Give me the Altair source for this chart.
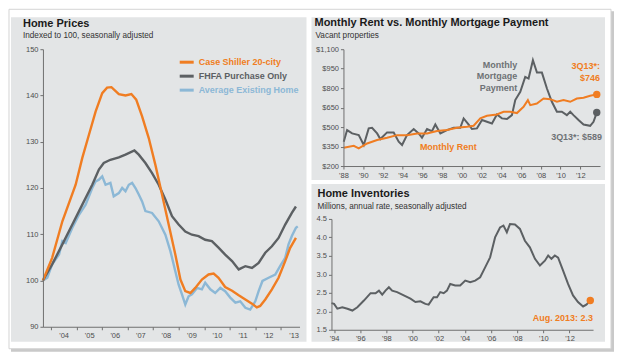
import altair as alt
import pandas as pd

FONT = "Liberation Sans"
ORANGE = "#f07d22"
DARK = "#5c6063"
BLUE = "#8cb8d6"
PANEL = "#e3e5e6"
AXIS = "#6f6f6f"
LABEL = "#4d4d4d"
ANNO_GRAY = "#6e7275"

# ---------------- Home prices (indexed to 100) ----------------
hp_names = ["Case Shiller 20-city", "FHFA Purchase Only", "Average Existing Home"]
cs_year = [2003.69, 2004.05, 2004.45, 2004.97, 2005.23, 2005.49, 2005.75, 2006.01, 2006.20, 2006.37,
           2006.66, 2006.92, 2007.15, 2007.34, 2007.57, 2007.83, 2008.09, 2008.35, 2008.61, 2008.87,
           2009.07, 2009.26, 2009.46, 2009.65, 2009.91, 2010.17, 2010.37, 2010.56, 2010.82, 2011.09,
           2011.35, 2011.61, 2011.87, 2012.06, 2012.19, 2012.39, 2012.65, 2012.91, 2013.17, 2013.36, 2013.59]
cs_val = [100.0, 104.9, 112.8, 120.7, 126.5, 131.5, 136.5, 140.5, 141.7, 141.8,
          140.3, 140.0, 140.3, 139.1, 135.5, 130.8, 125.0, 118.6, 112.1, 105.6,
          100.2, 97.7, 97.3, 98.4, 100.2, 101.3, 101.5, 100.6, 98.6, 97.8,
          96.8, 95.9, 95.0, 94.2, 94.5, 95.9, 98.1, 100.6, 104.2, 107.0, 109.2]
fhfa_year = [2003.69, 2004.05, 2004.45, 2004.84, 2005.23, 2005.62, 2005.88, 2006.07, 2006.33, 2006.66,
             2006.92, 2007.27, 2007.44, 2007.70, 2007.96, 2008.22, 2008.48, 2008.74, 2009.00, 2009.26,
             2009.52, 2009.78, 2010.04, 2010.30, 2010.56, 2010.82, 2011.09, 2011.35, 2011.61, 2011.87,
             2012.13, 2012.39, 2012.65, 2012.91, 2013.17, 2013.43, 2013.59]
fhfa_val = [100.0, 103.5, 107.8, 112.1, 116.4, 120.7, 124.0, 125.4, 126.1, 126.6,
            127.2, 128.1, 127.2, 125.4, 123.2, 120.7, 117.5, 113.9, 112.1, 110.6,
            109.9, 109.6, 108.8, 108.5, 107.1, 105.6, 104.2, 102.4, 103.1, 102.7,
            103.8, 106.0, 107.4, 109.2, 112.1, 114.6, 116.0]
aeh_year = [2003.69, 2003.86, 2004.05, 2004.32, 2004.45, 2004.58, 2004.84, 2005.10, 2005.36, 2005.62,
            2005.75, 2005.88, 2006.01, 2006.14, 2006.33, 2006.46, 2006.66, 2006.79, 2006.92, 2007.05,
            2007.18, 2007.31, 2007.44, 2007.57, 2007.70, 2007.96, 2008.22, 2008.48, 2008.68, 2008.87,
            2009.00, 2009.13, 2009.26, 2009.39, 2009.52, 2009.72, 2009.91, 2010.04, 2010.24, 2010.43,
            2010.63, 2010.82, 2011.02, 2011.22, 2011.41, 2011.61, 2011.80, 2012.00, 2012.13, 2012.28,
            2012.52, 2012.78, 2012.97, 2013.17, 2013.30, 2013.43, 2013.59, 2013.66]
aeh_val = [100.0, 100.6, 103.5, 105.6, 108.5, 108.1, 111.4, 114.2, 116.4, 120.0,
           121.4, 121.8, 122.5, 120.7, 121.1, 118.2, 118.9, 120.0, 119.3, 120.7,
           121.1, 120.0, 118.6, 117.1, 115.0, 114.6, 112.8, 109.9, 106.3, 102.0,
           99.1, 97.0, 94.8, 96.6, 97.0, 98.4, 98.1, 99.5, 98.1, 97.3,
           98.4, 97.7, 96.3, 95.2, 95.5, 94.1, 93.7, 95.5, 97.7, 99.9,
           100.6, 101.3, 103.1, 104.9, 107.8, 109.6, 111.4, 111.7]
hp_years = list(range(2004, 2014))
hp_ticks = [90, 100, 110, 120, 130, 140, 150]

# ---------------- Monthly rent vs mortgage payment ----------------
rent_year = [1988.03, 1989.05, 1989.55, 1990.40, 1991.41, 1992.42, 1993.43, 1994.44, 1995.46, 1996.47,
             1997.48, 1998.49, 1999.50, 2000.52, 2001.19, 2001.87, 2002.54, 2003.55, 2004.23, 2004.90,
             2005.58, 2006.25, 2006.69, 2006.93, 2007.60, 2008.28, 2008.95, 2009.63, 2010.30, 2010.98,
             2011.65, 2012.33, 2013.00, 2013.67]
rent_val = [341, 356, 336, 374, 400, 418, 438, 438, 451, 451,
            469, 477, 495, 503, 510, 567, 587, 597, 618, 618,
            608, 656, 708, 669, 682, 720, 715, 695, 708, 695,
            720, 726, 741, 752]
mort_year = [1988.03, 1988.37, 1988.88, 1989.55, 1990.06, 1990.56, 1990.90, 1991.41, 1991.74, 1992.42,
             1993.09, 1993.60, 1993.94, 1994.44, 1995.12, 1995.62, 1995.96, 1996.47, 1996.97, 1997.31,
             1997.82, 1998.49, 1999.17, 1999.84, 2000.18, 2000.69, 2001.02, 2001.53, 2002.04, 2002.54,
             2003.05, 2003.55, 2004.06, 2004.57, 2005.07, 2005.41, 2005.92, 2006.42, 2006.76, 2007.20,
             2007.61, 2008.11, 2008.62, 2009.12, 2009.63, 2010.13, 2010.64, 2010.98, 2011.31, 2011.82,
             2012.33, 2013.00, 2013.34, 2013.67]
mort_val = [387, 477, 451, 438, 362, 490, 495, 451, 408, 459,
            459, 387, 362, 438, 485, 451, 418, 485, 469, 520,
            451, 477, 495, 495, 567, 520, 485, 490, 554, 541,
            528, 597, 567, 562, 592, 708, 772, 887, 874, 1015,
            920, 920, 797, 695, 618, 618, 592, 618, 592, 554,
            520, 510, 541, 612]
pay_ticks = [200, 350, 500, 650, 800, 950, 1100]
pay_years = list(range(1988, 2013, 2))

# ---------------- Home inventories ----------------
inv_year = [1993.80, 1994.00, 1994.25, 1994.63, 1995.02, 1995.40, 1995.78, 1996.28, 1996.79, 1997.17,
            1997.43, 1997.68, 1997.93, 1998.19, 1998.44, 1998.82, 1999.33, 1999.84, 2000.22, 2000.60,
            2000.98, 2001.23, 2001.61, 2001.87, 2002.12, 2002.38, 2002.63, 2002.88, 2003.26, 2003.64,
            2004.03, 2004.41, 2004.79, 2005.17, 2005.55, 2005.93, 2006.31, 2006.69, 2006.95, 2007.21,
            2007.45, 2007.83, 2008.21, 2008.59, 2008.97, 2009.36, 2009.74, 2010.12, 2010.37, 2010.62,
            2010.88, 2011.13, 2011.51, 2011.89, 2012.27, 2012.65, 2013.04, 2013.29, 2013.59]
inv_val = [2.22, 2.20, 2.07, 2.11, 2.07, 2.02, 2.11, 2.29, 2.49, 2.49,
           2.56, 2.45, 2.56, 2.65, 2.56, 2.52, 2.43, 2.34, 2.25, 2.27,
           2.20, 2.18, 2.38, 2.38, 2.52, 2.49, 2.56, 2.74, 2.70, 2.70,
           2.83, 2.79, 2.83, 2.92, 3.19, 3.46, 4.00, 4.27, 4.32, 4.14,
           4.36, 4.35, 4.23, 3.91, 3.73, 3.42, 3.24, 3.37, 3.51, 3.42,
           3.51, 3.45, 3.10, 2.74, 2.43, 2.25, 2.13, 2.18, 2.29]
inv_ticks = [1.5, 2.0, 2.5, 3.0, 3.5, 4.0, 4.5]
inv_years = list(range(1994, 2013, 2))

ONE = pd.DataFrame({"k": [0]})


def box(x1, x2, y1, y2, **kw):
    return alt.Chart(ONE).mark_rect(**kw).encode(
        x=alt.value(x1), x2=alt.value(x2), y=alt.value(y1), y2=alt.value(y2))


def label(x, y, text, size, color, weight="normal", align="left"):
    return alt.Chart(ONE).mark_text(
        font=FONT, fontSize=size, color=color, fontWeight=weight, align=align, baseline="middle"
    ).encode(x=alt.value(x), y=alt.value(y), text=alt.value(text))


def seg(x1, x2, y, color):
    return alt.Chart(ONE).mark_rule(color=color, strokeWidth=3).encode(
        x=alt.value(x1), x2=alt.value(x2), y=alt.value(y))


axis_common = dict(
    zindex=1, grid=False, domainColor=AXIS, tickColor=AXIS, labelColor=LABEL,
    labelFont=FONT, labelFontSize=7.5, tickSize=3, labelPadding=2, title=None,
    labelOverlap=False, labelFlush=False,
)
yr_expr = "\"'\" + format(datum.value % 100, '02d')"

# ---------------- Left panel ----------------
xl = alt.X("year:Q", scale=alt.Scale(domain=[2003.69, 2013.73], nice=False, zero=False),
           axis=alt.Axis(values=hp_years, labelExpr=yr_expr, labelOffset=12.8, **axis_common))
yl = alt.Y("value:Q", scale=alt.Scale(domain=[90, 150], nice=False, zero=False),
           axis=alt.Axis(values=hp_ticks, **axis_common))

hp_colors = [ORANGE, DARK, BLUE]
hp_data = [pd.DataFrame({"year": cs_year, "value": cs_val}),
           pd.DataFrame({"year": fhfa_year, "value": fhfa_val}),
           pd.DataFrame({"year": aeh_year, "value": aeh_val})]
hp_lines = [alt.Chart(d).mark_line(color=c, strokeWidth=2.4).encode(x=xl, y=yl)
            for d, c in zip(hp_data, hp_colors)]

left = alt.layer(
    box(-32, 572, -38, 303, fill="#9c9c9c", opacity=0.55),
    box(-34, 569, -40, 300, fill="white", stroke="#d4d4d4", strokeWidth=1),
    box(-32, 264, -32, 293, fill=PANEL),
    hp_lines[2], hp_lines[1], hp_lines[0],
    seg(137, 151, 13, ORANGE), seg(137, 151, 27, DARK), seg(137, 151, 41, BLUE),
    label(156, 13, hp_names[0], 9, ORANGE, "bold"),
    label(156, 27, hp_names[1], 9, DARK, "bold"),
    label(156, 41, hp_names[2], 9, BLUE, "bold"),
    label(-20, -25, "Home Prices", 11, "#1a1a1a", "bold"),
    label(-20, -13, "Indexed to 100, seasonally adjusted", 8.2, "#333333"),
).properties(width=257, height=278)

# ---------------- Top right panel ----------------
xr = alt.X("year:Q", scale=alt.Scale(domain=[1988, 2014], nice=False, zero=False),
           axis=alt.Axis(values=pay_years, labelExpr=yr_expr, **axis_common))
yr = alt.Y("value:Q", scale=alt.Scale(domain=[200, 1100], nice=False, zero=False),
           axis=alt.Axis(values=pay_ticks, format="$,.0f", **axis_common))
rent_df = pd.DataFrame({"year": rent_year, "value": rent_val})
mort_df = pd.DataFrame({"year": mort_year, "value": mort_val})
rent_end = pd.DataFrame({"year": [rent_year[-1]], "value": [rent_val[-1]]})
mort_end = pd.DataFrame({"year": [mort_year[-1]], "value": [mort_val[-1]]})

tr = alt.layer(
    box(-32, 262, -32, 131, fill=PANEL),
    alt.Chart(mort_df).mark_line(color=DARK, strokeWidth=2).encode(x=xr, y=yr),
    alt.Chart(rent_df).mark_line(color=ORANGE, strokeWidth=2).encode(x=xr, y=yr),
    alt.Chart(rent_end).mark_circle(color=ORANGE, size=55, opacity=1).encode(x=xr, y=yr),
    alt.Chart(mort_end).mark_circle(color=DARK, size=55, opacity=1).encode(x=xr, y=yr),
    label(174, 16, "Monthly", 9, ANNO_GRAY, "bold", "right"),
    label(174, 27, "Mortgage", 9, ANNO_GRAY, "bold", "right"),
    label(174, 39, "Payment", 9, ANNO_GRAY, "bold", "right"),
    label(105, 98, "Monthly Rent", 9, ORANGE, "bold", "center"),
    label(257, 17, "3Q13*:", 9, ORANGE, "bold", "right"),
    label(257, 29, "$746", 9, ORANGE, "bold", "right"),
    label(259, 88, "3Q13*: $589", 9, ANNO_GRAY, "bold", "right"),
    label(-29, -26, "Monthly Rent vs. Monthly Mortgage Payment", 11, "#1a1a1a", "bold"),
    label(-28, -13, "Vacant properties", 8.2, "#333333"),
).properties(width=257, height=117)

# ---------------- Bottom right panel ----------------
xb = alt.X("year:Q", scale=alt.Scale(domain=[1993.8, 2013.8], range=[-12, 250], nice=False, zero=False),
           axis=alt.Axis(values=inv_years, labelExpr=yr_expr, **axis_common))
yb = alt.Y("value:Q", scale=alt.Scale(domain=[1.5, 4.5], nice=False, zero=False),
           axis=alt.Axis(values=inv_ticks, format=".1f", offset=12, **axis_common))
inv_df = pd.DataFrame({"year": inv_year, "value": inv_val})
inv_end = pd.DataFrame({"year": [inv_year[-1]], "value": [inv_val[-1]]})

br = alt.layer(
    box(-32, 262, -35, 123, fill=PANEL),
    alt.Chart(inv_df).mark_line(color=DARK, strokeWidth=2).encode(x=xb, y=yb),
    alt.Chart(inv_end).mark_circle(color=ORANGE, size=55, opacity=1).encode(x=xb, y=yb),
    label(250, 99, "Aug. 2013: 2.3", 9, ORANGE, "bold", "right"),
    label(-26, -25, "Home Inventories", 11, "#1a1a1a", "bold"),
    label(-26, -12, "Millions, annual rate, seasonally adjusted", 8.2, "#333333"),
).properties(width=250, height=111)

chart = alt.hconcat(
    left,
    alt.vconcat(tr, br, spacing=53, bounds="flush"),
    spacing=44, bounds="flush",
).properties(padding=0, background="white").configure_view(strokeWidth=0)

chart.save("out.html", embed_options={"renderer": "svg", "actions": False})
